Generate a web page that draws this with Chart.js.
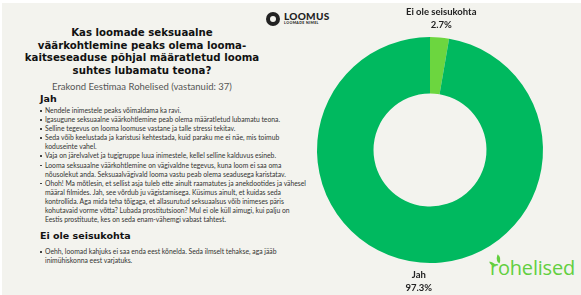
<!DOCTYPE html>
<html lang="et">
<head>
<meta charset="utf-8">
<script src="https://cdn.jsdelivr.net/npm/chart.js@4.4.1/dist/chart.umd.min.js"></script>
<style>
  html, body { margin: 0; padding: 0; background: #ffffff; }
  #leht { position: relative; width: 579px; height: 292px; margin: 3px 0 0 2px; background: #f3f3ee; overflow: hidden; font-family: Lato, sans-serif; }
  #tekst { position: absolute; left: 0; top: 0; width: 320px; }
  #pealkiri { position: absolute; left: 0; width: 280px; top: 24px; text-align: center; font-family: "DejaVu Sans", sans-serif; font-weight: bold; font-size: 10.2px; line-height: 12.5px; color: #111; }
  #alapealkiri { position: absolute; left: 0; width: 280px; top: 78px; text-align: center; font-size: 9.5px; color: #555; }
  .pealkiri2 { position: absolute; left: 38px; font-family: "DejaVu Sans", sans-serif; font-weight: bold; font-size: 9.5px; color: #111; }
  ul { position: absolute; left: 37px; width: 269px; margin: 0; padding: 0; list-style: none; font-size: 6.8px; line-height: 9.1px; color: #333; }
  li { position: relative; padding-left: 6px; }
  li:before { content: ""; position: absolute; left: 1px; top: 4px; width: 1.6px; height: 1.6px; background: #444; }
  #loogo1 { position: absolute; left: 264px; top: 9px; display: flex; align-items: center; }
  #ring { width: 14px; height: 14px; border-radius: 50%; background: #222; margin-right: 4px; position: relative; }
  #ring:after { content: ""; position: absolute; left: 4px; top: 4px; width: 6px; height: 6px; border-radius: 50%; background: #f3f3ee; }
  #loomus { font-weight: 900; font-size: 10px; line-height: 9px; color: #222; letter-spacing: 0.3px; }
  #loomus small { display: block; font-size: 3.5px; line-height: 5px; letter-spacing: 0.4px; }
  #rohelised { position: absolute; left: 488px; top: 251px; font-family: "Open Sans", sans-serif; font-size: 20px; font-weight: 400; color: #62cf3e; letter-spacing: -0.2px; }
  .leht1 { position: absolute; background: #62cf3e; border-radius: 0 100% 0 100%; }
  #graafik { position: absolute; left: 288px; top: -3px; }
</style>
</head>
<body>
<div id="leht">
  <div id="tekst">
    <div id="pealkiri"></div>
    <div id="alapealkiri"></div>
    <div class="pealkiri2" id="p1" style="top:90px"></div>
    <ul id="l1" style="top:103px"></ul>
    <div class="pealkiri2" id="p2" style="top:227px"></div>
    <ul id="l2" style="top:244px"></ul>
  </div>
  <div id="loogo1"><div id="ring"></div><div id="loomus">LOOMUS<small>LOOMADE NIMEL</small></div></div>
  <div class="leht1" style="left:494px; top:252px; width:5px; height:8px; transform: rotate(20deg);"></div>
  <div class="leht1" style="left:487px; top:259px; width:7px; height:4px; transform: rotate(10deg);"></div>
  <div id="rohelised">rohelised</div>
  <canvas id="graafik" width="291" height="295"></canvas>
</div>
<script>
// andmed (diagrammi järjekord: kell 12-st päripäeva)
const kysimusRead = ['Kas loomade seksuaalne', 'väärkohtlemine peaks olema looma-', 'kaitseseaduse põhjal määratletud looma', 'suhtes lubamatu teona?'];
const erakond = 'Erakond Eestimaa Rohelised';
const vastused = ['Ei ole seisukohta', 'Jah'];
const vastanuid = [1, 36];
const varvid = ['#6cd63f', '#00b95f'];

const jahKommentaarid = [
  'Nendele inimestele peaks võimaldama ka ravi.',
  'Igasugune seksuaalne väärkohtlemine peab olema määratletud lubamatu teona.',
  'Selline tegevus on looma loomuse vastane ja talle stressi tekitav.',
  'Seda võib keelustada ja karistusi kehtestada, kuid paraku me ei näe, mis toimub koduseinte vahel.',
  'Vaja on järelvalvet ja tugigruppe luua inimestele, kellel selline kalduvus esineb.',
  'Looma seksuaalne väärkohtlemine on vägivaldne tegevus, kuna loom ei saa oma nõusolekut anda. Seksuaalvägivald looma vastu peab olema seadusega karistatav.',
  'Ohoh! Ma mõtlesin, et sellist asja tuleb ette ainult raamatutes ja anekdootides ja vähesel määral filmides. Jah, see võrdub ju vägistamisega. Küsimus ainult, et kuidas seda kontrollida. Aga mida teha tõigaga, et allasurutud seksuaalsus võib inimeses päris kohutavaid vorme võtta? Lubada prostitutsioon? Mul ei ole küll aimugi, kui palju on Eestis prostituute, kes on seda enam-vähemgi vabast tahtest.'
];
const eiOleKommentaarid = [
  'Oehh, loomad kahjuks ei saa enda eest kõnelda. Seda ilmselt tehakse, aga jääb inimühiskonna eest varjatuks.'
];

const kokku = vastanuid.reduce((a, b) => a + b, 0);

document.getElementById('pealkiri').innerHTML = kysimusRead.join('<br>');
document.getElementById('alapealkiri').textContent = erakond + ' (vastanuid: ' + kokku + ')';
document.getElementById('p1').textContent = vastused[1];
document.getElementById('p2').textContent = vastused[0];
document.getElementById('l1').innerHTML = jahKommentaarid.map(k => `<li>${k}</li>`).join('');
document.getElementById('l2').innerHTML = eiOleKommentaarid.map(k => `<li>${k}</li>`).join('');

// sildid lõikude kohale
const sildid = {
  id: 'sildid',
  afterDraw(chart) {
    const c = chart.ctx;
    const meta = chart.getDatasetMeta(0);
    c.save();
    c.fillStyle = '#222';
    c.textAlign = 'center';
    c.textBaseline = 'middle';
    meta.data.forEach((arc, i) => {
      const a = (arc.startAngle + arc.endAngle) / 2;
      const r = arc.outerRadius + 19;
      const x = arc.x + Math.cos(a) * r;
      const y = arc.y + Math.sin(a) * r;
      const pr = (vastanuid[i] / kokku * 100).toFixed(1) + '%';
      c.font = 'bold 9.5px Lato';
      c.fillText(vastused[i], x, y - 6.5);
      c.fillText(pr, x, y + 6.5);
    });
    c.restore();
  }
};

new Chart(document.getElementById('graafik'), {
  type: 'doughnut',
  data: {
    labels: vastused,
    datasets: [{
      data: vastanuid,
      backgroundColor: varvid,
      borderWidth: 0
    }]
  },
  options: {
    responsive: false,
    animation: false,
    cutout: '50%',
    layout: { padding: { left: 27, right: 38, top: 37, bottom: 32 } },
    plugins: {
      legend: { display: false },
      tooltip: { enabled: false }
    }
  },
  plugins: [sildid]
});
</script>
</body>
</html>
